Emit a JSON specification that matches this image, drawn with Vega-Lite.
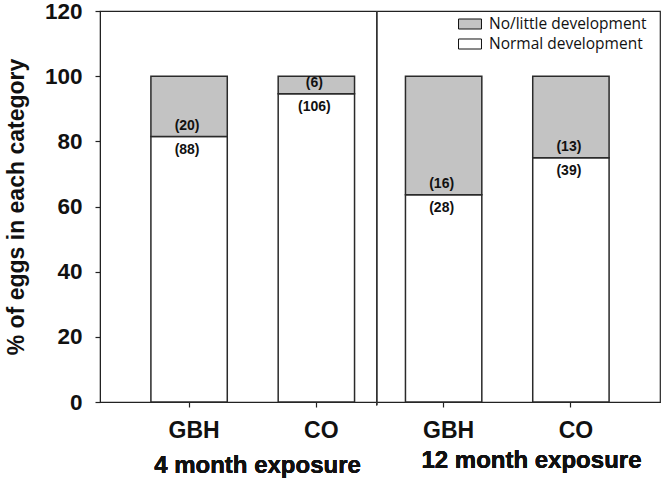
{
  "$schema": "https://vega.github.io/schema/vega-lite/v6.json",
  "autosize": {"type": "none"},
  "padding": {"left": 100, "top": 11, "right": 4, "bottom": 76},
  "width": 560,
  "height": 391,
  "background": "white",
  "config": {
    "view": {"stroke": "#222", "strokeWidth": 1.2},
    "font": "Liberation Sans"
  },
  "data": {
    "values": [
      {"bar": "4|GBH", "Normal development": 81.48, "No/little development": 18.52, "normalLabel": "(88)", "littleLabel": "(20)"},
      {"bar": "4|CO", "Normal development": 94.64, "No/little development": 5.36, "normalLabel": "(106)", "littleLabel": "(6)"},
      {"bar": "12|GBH", "Normal development": 63.64, "No/little development": 36.36, "normalLabel": "(28)", "littleLabel": "(16)"},
      {"bar": "12|CO", "Normal development": 75.0, "No/little development": 25.0, "normalLabel": "(39)", "littleLabel": "(13)"}
    ]
  },
  "layer": [
    {
      "transform": [{"fold": ["Normal development", "No/little development"], "as": ["category", "pct"]}],
      "mark": {"type": "bar", "stroke": "#2a2a2a", "strokeWidth": 1.5},
      "encoding": {
        "x": {
          "field": "bar", "type": "nominal", "sort": ["4|GBH", "4|CO", "12|GBH", "12|CO"],
          "scale": {"domain": ["4|GBH", "4|CO", "12|GBH", "12|CO"], "paddingInner": 0.4, "paddingOuter": 0.4},
          "axis": {
            "title": null, "labelExpr": "split(datum.value, '|')[1]", "labelAngle": 0,
            "labelFont": "Liberation Sans", "labelFontSize": 23, "labelFontWeight": "bold", "labelColor": "#111",
            "labelPadding": 12, "labelOffset": 5, "tickSize": 5, "tickColor": "#222", "domainColor": "#222", "tickWidth": 1.2
          }
        },
        "y": {
          "field": "pct", "type": "quantitative", "stack": "zero",
          "scale": {"domain": [0, 120], "nice": false},
          "title": "% of eggs in each category",
          "axis": {
            "values": [0, 20, 40, 60, 80, 100, 120], "grid": false,
            "labelFont": "Liberation Sans", "labelFontSize": 22.5, "labelFontWeight": "bold", "labelColor": "#111",
            "labelPadding": 13, "tickSize": 5, "tickColor": "#222", "domainColor": "#222", "tickWidth": 1.2,
            "titleFont": "Liberation Sans", "titleFontSize": 23, "titleFontWeight": "bold", "titleColor": "#111", "titlePadding": 16
          }
        },
        "color": {
          "field": "category", "type": "nominal",
          "scale": {"domain": ["No/little development", "Normal development"], "range": ["#c3c3c3", "#ffffff"]},
          "legend": {
            "title": null, "orient": "none", "legendX": 361, "legendY": 4, "padding": 0,
            "symbolType": "M-1.35,-0.59H1.35V0.59H-1.35Z", "symbolSize": 289, "symbolStrokeColor": "#111", "symbolStrokeWidth": 1,
            "labelFont": "Open Sans", "labelFontSize": 15.5, "labelColor": "#111", "labelOffset": 10, "rowPadding": 2, "labelLimit": 300
          }
        },
        "order": {"field": "category", "sort": "descending"}
      }
    },
    {
      "mark": {"type": "rule", "color": "#333", "strokeWidth": 1.2},
      "encoding": {
        "x": {"datum": "4|CO", "type": "nominal", "bandPosition": 1.29},
        "y": {"datum": 120, "type": "quantitative", "title": "% of eggs in each category"},
        "y2": {"datum": -1}
      }
    },
    {
      "mark": {"type": "text", "font": "Liberation Sans", "fontSize": 14, "fontWeight": "bold", "color": "#111", "baseline": "middle", "dy": 13, "dx": -2},
      "encoding": {
        "x": {"field": "bar", "type": "nominal"},
        "y": {"field": "Normal development", "type": "quantitative", "title": "% of eggs in each category"},
        "text": {"field": "normalLabel"}
      }
    },
    {
      "mark": {"type": "text", "font": "Liberation Sans", "fontSize": 14, "fontWeight": "bold", "color": "#111", "baseline": "middle", "dy": -11, "dx": -2},
      "encoding": {
        "x": {"field": "bar", "type": "nominal"},
        "y": {"field": "Normal development", "type": "quantitative", "title": "% of eggs in each category"},
        "text": {"field": "littleLabel"}
      }
    },
    {
      "mark": {"type": "text", "text": "4 month exposure", "font": "Liberation Sans", "fontSize": 24, "fontWeight": "bold", "color": "#111", "baseline": "alphabetic", "align": "center"},
      "encoding": {
        "x": {"datum": "4|GBH", "type": "nominal", "bandPosition": 1.396},
        "y": {"datum": -21.8, "type": "quantitative", "title": "% of eggs in each category"}
      }
    },
    {
      "mark": {"type": "text", "text": "12 month exposure", "font": "Liberation Sans", "fontSize": 24, "fontWeight": "bold", "color": "#111", "baseline": "alphabetic", "align": "center"},
      "encoding": {
        "x": {"datum": "12|GBH", "type": "nominal", "bandPosition": 1.65},
        "y": {"datum": -20.3, "type": "quantitative", "title": "% of eggs in each category"}
      }
    }
  ]
}
